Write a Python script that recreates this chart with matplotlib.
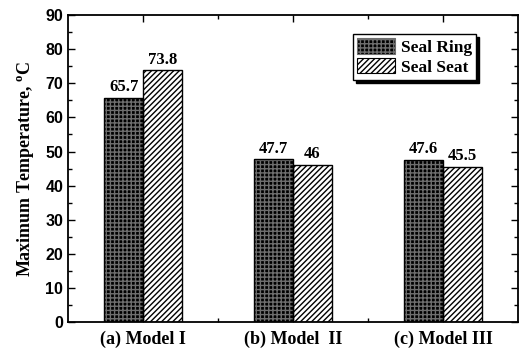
import numpy as np
import matplotlib
matplotlib.use("Agg")
import matplotlib.pyplot as plt
from matplotlib.patches import Patch

models = ["(a) Model I", "(b) Model  II", "(c) Model III"]
seal_ring = [65.7, 47.7, 47.6]
seal_seat = [73.8, 46, 45.5]
ring_labels = ["65.7", "47.7", "47.6"]
seat_labels = ["73.8", "46", "45.5"]

fig = plt.figure(figsize=(5.28, 3.49), dpi=100)
ax = fig.add_axes([0.129, 0.077, 0.852, 0.880])

x = np.arange(1, len(models) + 1)
w = 0.26

# seal ring: dark speckled fill -> black face with grey cross hatch
ax.bar(x - w / 2, seal_ring, w, color="black", edgecolor="#6e6e6e",
       hatch="++++", linewidth=0, zorder=2)
ax.bar(x - w / 2, seal_ring, w, fill=False, edgecolor="black", linewidth=1.0, zorder=3)
# seal seat: diagonal hatch on white
ax.bar(x + w / 2, seal_seat, w, color="white", edgecolor="black",
       hatch="//////", linewidth=1.0, zorder=2)

# legend proxies
h1 = Patch(facecolor="black", edgecolor="#6e6e6e", hatch="++++", linewidth=0.8)
h2 = Patch(facecolor="white", edgecolor="black", hatch="//////", linewidth=0.8)

lbl_font = dict(family="Liberation Serif", weight="bold", size=12)
for xi, v, s in zip(x - w / 2, seal_ring, ring_labels):
    ax.text(xi, v + 0.8, s, ha="center", va="bottom", **lbl_font)
for xi, v, s in zip(x + w / 2, seal_seat, seat_labels):
    ax.text(xi, v + 0.8, s, ha="center", va="bottom", **lbl_font)

ax.set_xlim(0.5, 3.5)
ax.set_ylim(0, 90)
ax.set_xticks(x)
ax.set_xticklabels(models, fontfamily="Liberation Serif", fontweight="bold", fontsize=13)
ax.set_xticks([1.5, 2.5], minor=True)
ax.set_yticks(np.arange(0, 91, 10))
ax.set_yticks(np.arange(5, 90, 10), minor=True)
for t in ax.get_yticklabels():
    t.set_fontfamily("Liberation Sans")
    t.set_fontweight("bold")
    t.set_fontsize(11.5)

ax.tick_params(which="both", direction="in", top=True, right=True, width=1.0)
ax.tick_params(which="major", length=5)
ax.tick_params(which="minor", length=3)
ax.tick_params(axis="x", which="major", pad=6)
for sp in ax.spines.values():
    sp.set_linewidth(1.3)

ax.set_ylabel("Maximum Temperature, $^\\mathregular{o}$C", fontfamily="Liberation Serif",
              fontweight="bold", fontsize=13, labelpad=6)

leg = ax.legend([h1, h2], ["Seal Ring", "Seal Seat"], loc="upper right",
                bbox_to_anchor=(0.907, 0.938), fancybox=False,
                shadow={"color": "black", "alpha": 1.0}, framealpha=1,
                prop=dict(family="Liberation Serif", weight="bold", size=12.5),
                handlelength=2.2, handleheight=1.0, handletextpad=0.3,
                borderpad=0.25, labelspacing=0.1, borderaxespad=0)
leg.get_frame().set_edgecolor("black")
leg.get_frame().set_linewidth(1.0)

fig.savefig("out.png", dpi=100)
